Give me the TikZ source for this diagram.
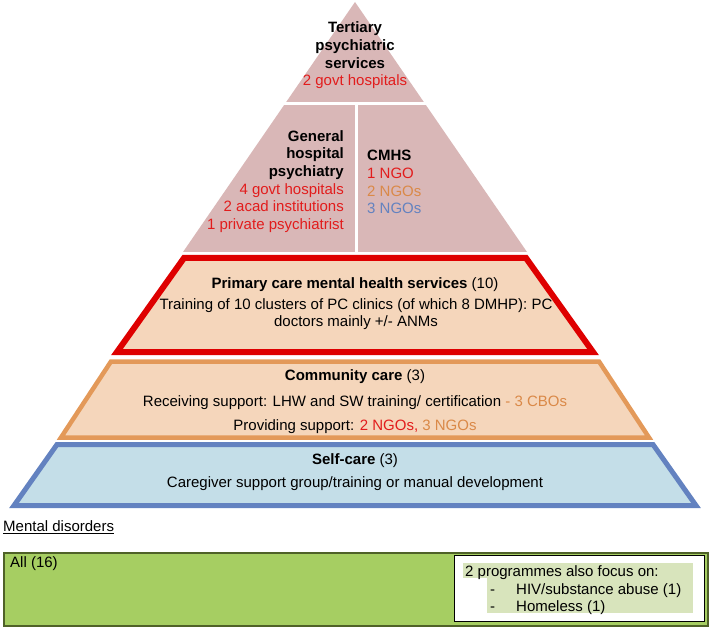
\documentclass[tikz,border=0pt]{standalone}
\usepackage{fontspec}
\setmainfont{Liberation Sans}
\definecolor{pinkfill}{RGB}{217,183,183}
\definecolor{peach}{RGB}{245,214,187}
\definecolor{redline}{RGB}{222,0,0}
\definecolor{orangeline}{RGB}{227,153,89}
\definecolor{bluefill}{RGB}{196,222,232}
\definecolor{blueline}{RGB}{99,130,192}
\definecolor{greenfill}{RGB}{166,206,98}
\definecolor{greenborder}{RGB}{79,98,40}
\definecolor{hilite}{RGB}{216,228,188}
\definecolor{tred}{RGB}{226,28,28}
\definecolor{torange}{RGB}{218,137,72}
\definecolor{tblue}{RGB}{99,130,192}
\begin{document}
\begin{tikzpicture}[x=1pt,y=-1pt,
  txt/.style={inner sep=0pt, font=\fontsize{15}{17.7}\selectfont},
  tier/.style={line width=#1, line join=miter},
  gap/.style={white, line width=3pt}]
\useasboundingbox (0,0) rectangle (712,628);
% upper pink pyramid
\fill[pinkfill] (355,2) -- (527,252) -- (183,252) -- cycle;
\draw[gap] (270,104) -- (440,104);
\draw[gap] (356,104) -- (356,253);
% tiers
\draw[tier=6pt, draw=redline, fill=peach] (184,258) -- (526,258) -- (593,352) -- (117,352) -- cycle;
\draw[tier=4.5pt, draw=orangeline, fill=peach] (111,361.5) -- (599,361.5) -- (649,437.5) -- (61,437.5) -- cycle;
\draw[tier=5pt, draw=blueline, fill=bluefill] (57,444.5) -- (653,444.5) -- (696,505.5) -- (14,505.5) -- cycle;
% texts in pyramid
\node[txt, align=center] (tert) at (355,55.5) {\textbf{Tertiary}\\\textbf{psychiatric}\\\textbf{services}\\\textcolor{tred}{2 govt hospitals}};
\node[txt, align=right, anchor=east] (gen) at (344,181.5) {\textbf{General}\\\textbf{hospital}\\\textbf{psychiatry}\\\textcolor{tred}{4 govt hospitals}\\\textcolor{tred}{2 acad institutions}\\\textcolor{tred}{1 private psychiatrist}};
\node[txt, align=left, anchor=west] (cmhs) at (367,182) {\textbf{CMHS}\\\textcolor{tred}{1 NGO}\\\textcolor{torange}{2 NGOs}\\\textcolor{tblue}{3 NGOs}};
\node[txt] (pctitle) at (355,285) {\textbf{Primary care mental health services} (10)};
\node[txt, align=center] (pcbody) at (356,314) {Training of 10 clusters of PC clinics (of which 8 DMHP): PC\\doctors mainly +/- ANMs};
\node[txt] (cctitle) at (355,377) {\textbf{Community care} (3)};
\node[txt] (ccrecv) at (355,403) {Receiving support: LHW and SW training/ certification \textcolor{torange}{- 3 CBOs}};
\node[txt] (ccprov) at (355,427) {Providing support: \textcolor{tred}{2 NGOs,} \textcolor{torange}{3 NGOs}};
\node[txt] (sctitle) at (355,461) {\textbf{Self-care} (3)};
\node[txt] (scbody) at (355,484) {Caregiver support group/training or manual development};
% bottom
\node[txt, anchor=west] (md) at (3,527.5) {\underline{Mental disorders}};
\draw[greenborder, fill=greenfill, line width=1.5pt] (4,553) rectangle (708,626);
\node[txt, anchor=west] (all) at (10,564) {All (16)};
\draw[black, fill=white, line width=1pt] (454,555.5) rectangle (704,621.5);
\fill[hilite] (463,563) rectangle (693,578);
\fill[hilite] (487,578) rectangle (693,613);
\node[txt, anchor=base west] (focus) at (465,576.5) {2 programmes also focus on:};
\node[txt, anchor=base west] (d1) at (490,594.5) {-};
\node[txt, anchor=base west] (hiv) at (516,594.5) {HIV/substance abuse (1)};
\node[txt, anchor=base west] (d2) at (490,611.5) {-};
\node[txt, anchor=base west] (home) at (516,611.5) {Homeless (1)};
\end{tikzpicture}
\end{document}
